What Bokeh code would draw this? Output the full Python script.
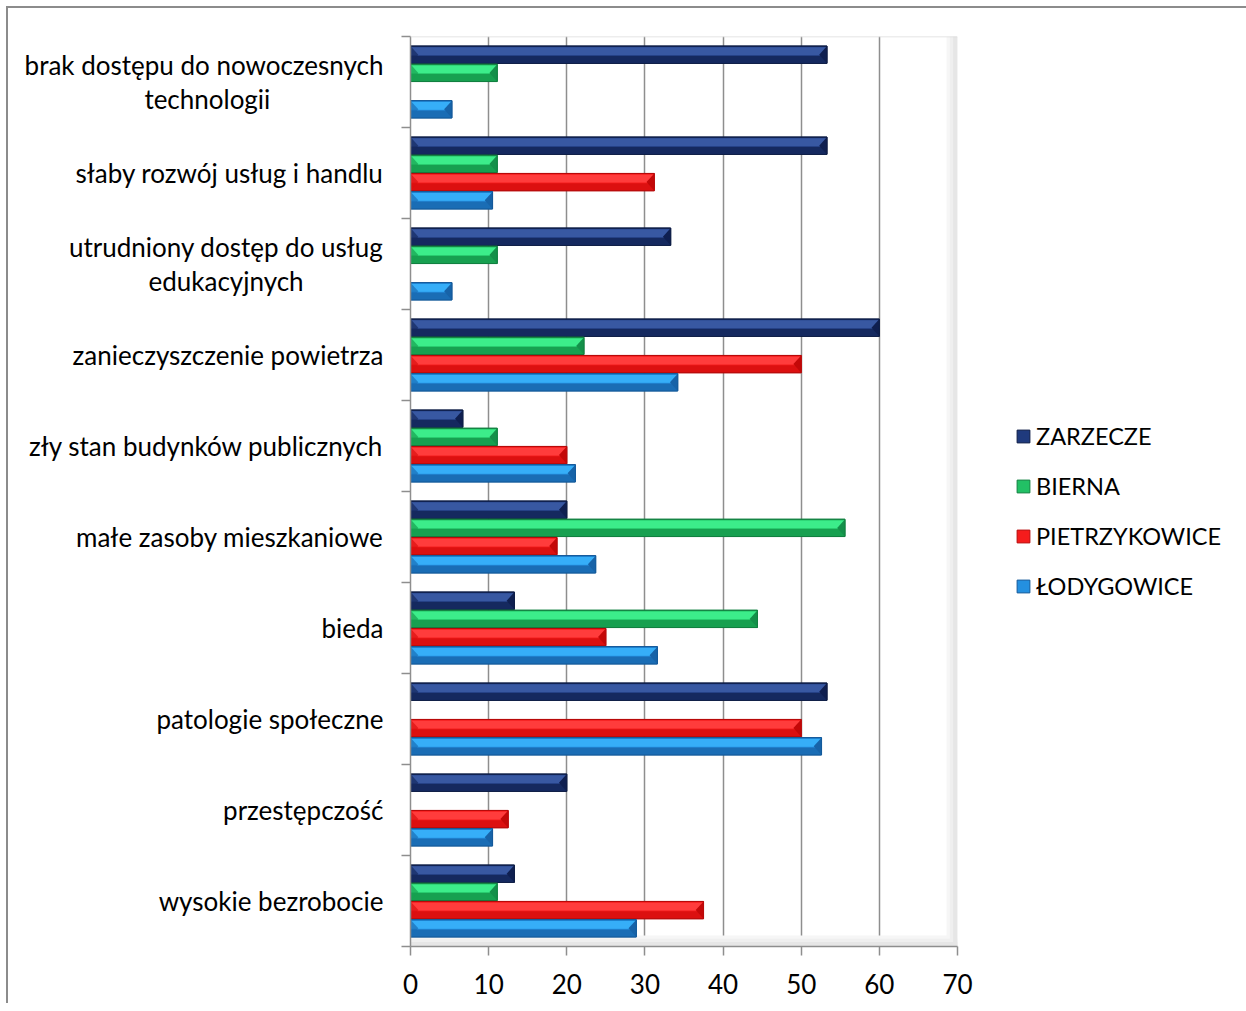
import numpy as np
from bokeh.plotting import figure
from bokeh.models import (Range1d, FixedTicker, Legend, LegendItem,
                          BoxAnnotation, Span)
from bokeh.embed import file_html
from bokeh.resources import INLINE

# ---------------- data ----------------
NB = "\u00a0"
categories = [
    "brak dostępu do nowoczesnych\ntechnologii" + NB * 17,
    "słaby rozwój usług i handlu",
    "utrudniony dostęp do usług\nedukacyjnych" + NB * 12,
    "zanieczyszczenie powietrza",
    "zły stan budynków publicznych",
    "małe zasoby mieszkaniowe",
    "bieda",
    "patologie społeczne",
    "przestępczość",
    "wysokie bezrobocie",
]
series_names = ["ZARZECZE", "BIERNA", "PIETRZYKOWICE", "ŁODYGOWICE"]
zarzecze = [53.3, 53.3, 33.3, 60.0, 6.7, 20.0, 13.3, 53.3, 20.0, 13.3]
bierna = [11.1, 11.1, 11.1, 22.2, 11.1, 55.6, 44.4, 0.0, 0.0, 11.1]
pietrzykowice = [0.0, 31.2, 0.0, 50.0, 20.0, 18.75, 25.0, 50.0, 12.5, 37.5]
lodygowice = [5.3, 10.5, 5.3, 34.2, 21.1, 23.7, 31.6, 52.6, 10.5, 28.9]
x_ticks = [0, 10, 20, 30, 40, 50, 60, 70]

# ---------------- style ----------------
FONT = "Lato"
FS = "26px"
LFS = "23.5px"
GRID = "#8e8e8e"
palettes = [
    # mid, light, dark, edge, bevel
    ("#1f3a7d", "#3858a2", "#15295f", "#0e1d45", "#0f1f50"),
    ("#22c065", "#3ced8a", "#17a050", "#128040", "#14904a"),
    ("#f51c1c", "#ff3c3c", "#dc1010", "#b80a0a", "#c40808"),
    ("#2490e0", "#36aef8", "#1a6db5", "#14599a", "#1763a8"),
]
all_values = [zarzecze, bierna, pietrzykowice, lodygowice]
offsets = [0.3, 0.1, -0.1, -0.3]

n = len(categories)
p = figure(frame_width=547, frame_height=910, x_range=Range1d(x_ticks[0], x_ticks[-1]),
           y_range=Range1d(0, n), output_backend="svg", toolbar_location=None,
           min_border_left=402, min_border_right=0,
           min_border_top=28, min_border_bottom=57)
p.styles = {"border-top": "2px solid #8c8c8c", "border-left": "2px solid #8c8c8c",
            "margin-left": "6px", "margin-top": "6px"}
p.outline_line_color = None
p.background_fill_color = "white"
p.border_fill_color = "white"

# back wall / floor shading
for i, c in enumerate(["#f6f6f6", "#efefef", "#e6e6e6"]):
    p.add_layout(BoxAnnotation(left=68.6 + i * 0.42, right=70, fill_color=c,
                               fill_alpha=1, line_color=None, level="underlay"))
    p.add_layout(BoxAnnotation(bottom=0, top=0.12 - i * 0.035, fill_color=c,
                               fill_alpha=1, line_color=None, level="underlay"))
p.add_layout(Span(location=n, dimension="width", line_color="#dcdcdc", line_width=1.5))

# ---------------- bars ----------------
BAR = 0.2
h = BAR * 0.95
legend_items = []
for name, vals, off, pal in zip(series_names, all_values, offsets, palettes):
    mid, light, dark, edge, bevel = pal
    idx = [k for k, v in enumerate(vals) if v > 0]
    v = np.array([vals[k] for k in idx], dtype=float)
    yc = np.array([n - 1 - k + 0.5 + off for k in idx])
    r = p.hbar(y=yc, left=0, right=v, height=h, fill_color=mid, line_color=edge, line_width=1)
    p.hbar(y=yc + h * 0.2, left=0, right=v, height=h * 0.45, fill_color=light, line_color=None)
    p.hbar(y=yc - h * 0.27, left=0, right=v, height=h * 0.4, fill_color=dark, line_color=None)
    b = np.minimum(1.0, v / 2)
    xs = [[vi, vi - bi, vi] for vi, bi in zip(v, b)]
    ys = [[y + h / 2, y, y - h / 2] for y in yc]
    p.patches(xs, ys, fill_color=bevel, line_color=None)
    xsl = [[0, bi, 0] for bi in b]
    p.patches(xsl, ys, fill_color=dark, fill_alpha=0.7, line_color=None)
    p.hbar(y=yc, left=0, right=v, height=h, fill_color=None, line_color=edge, line_width=1)
    legend_items.append(LegendItem(label=name, renderers=[r]))

# ---------------- axes ----------------
p.xaxis.ticker = FixedTicker(ticks=x_ticks)
p.xgrid.ticker = FixedTicker(ticks=x_ticks[1:])
p.xgrid.grid_line_color = GRID
p.xgrid.grid_line_width = 1.5
p.ygrid.grid_line_color = None
p.xaxis.axis_line_color = GRID
p.xaxis.axis_line_width = 1.5
p.xaxis.major_tick_line_color = GRID
p.xaxis.major_tick_line_width = 1.5
p.xaxis.major_tick_in = 0
p.xaxis.major_tick_out = 9
p.xaxis.minor_tick_line_color = None
p.xaxis.major_label_text_font = FONT
p.xaxis.major_label_text_font_size = FS
p.xaxis.major_label_text_color = "black"
p.xaxis.major_label_standoff = 18

centers = [n - 1 - k + 0.5 for k in range(n)]
bounds = list(range(n + 1))
p.yaxis.ticker = FixedTicker(ticks=centers, minor_ticks=bounds)
p.yaxis.major_label_overrides = {c: lab for c, lab in zip(centers, categories)}
p.yaxis.axis_line_color = GRID
p.yaxis.axis_line_width = 1.5
p.yaxis.major_tick_line_color = None
p.yaxis.major_tick_in = 0
p.yaxis.major_tick_out = 0
p.yaxis.minor_tick_line_color = GRID
p.yaxis.minor_tick_line_width = 1.5
p.yaxis.minor_tick_in = 0
p.yaxis.minor_tick_out = 9
p.yaxis.major_label_text_font = FONT
p.yaxis.major_label_text_font_size = FS
p.yaxis.major_label_text_color = "black"
p.yaxis.major_label_text_line_height = 1.09
p.yaxis.major_label_standoff = 18

# ---------------- legend ----------------
legend = Legend(items=legend_items, location=(58, 345), orientation="vertical",
                label_text_font=FONT, label_text_font_size=LFS, label_text_color="black",
                glyph_width=16, glyph_height=16, label_height=30, spacing=20,
                padding=0, margin=0, border_line_color=None, background_fill_alpha=0,
                label_standoff=5)
p.add_layout(legend, "right")

open("out.html", "w").write(file_html(p, INLINE))
